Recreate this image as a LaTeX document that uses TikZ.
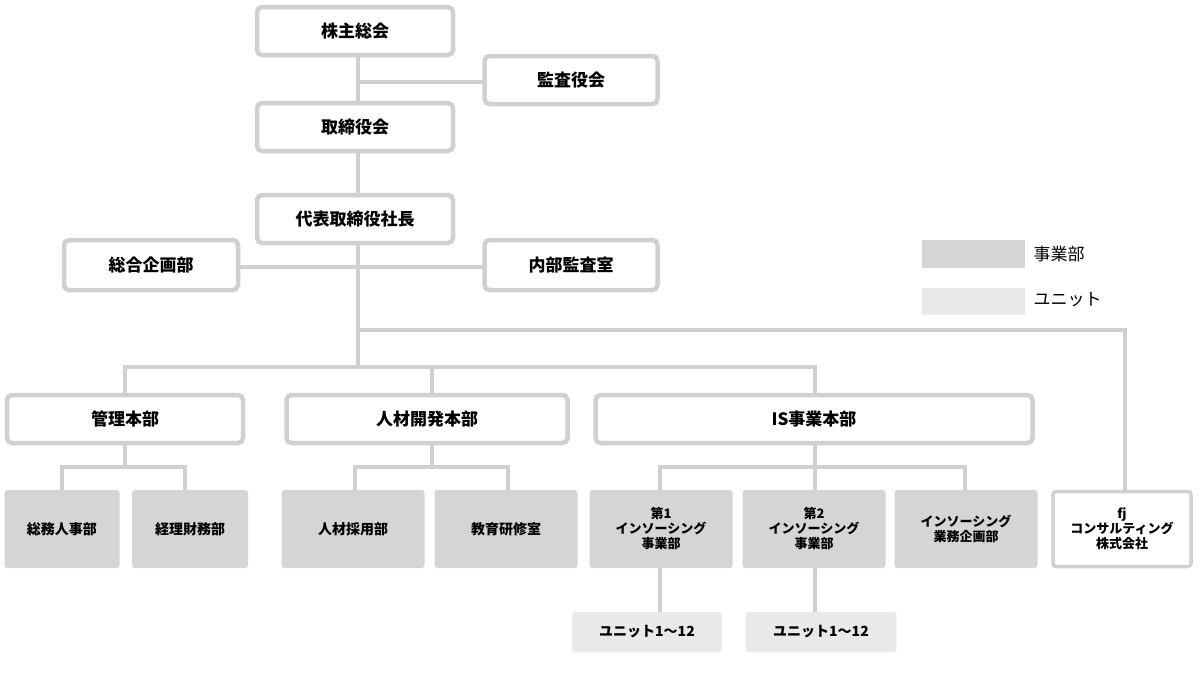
\documentclass[tikz,border=0pt]{standalone}
\usepackage{fontspec}
\setmainfont{Noto Sans CJK JP}
\definecolor{ln}{HTML}{D0D0D0}
\definecolor{dept}{HTML}{D5D5D5}
\definecolor{unit}{HTML}{E9E9E9}
\begin{document}
\begin{tikzpicture}[x=1pt,y=-1pt,
  ob/.style={draw=ln,line width=4.5pt,fill=white,rounded corners=5pt,font=\bfseries\fontsize{17}{20}\selectfont},
  db/.style={fill=dept,rounded corners=3pt,font=\bfseries\fontsize{14}{16}\selectfont,align=center},
  ub/.style={fill=unit,rounded corners=3pt,font=\bfseries\fontsize{14}{16}\selectfont},
  fb/.style={draw=ln,line width=3.5pt,fill=white,rounded corners=3pt,font=\bfseries\fontsize{13}{15}\selectfont,align=center},
  cn/.style={draw=ln,line width=4.5pt}]
\useasboundingbox (0,0) rectangle (1200,673);
\fill[white] (0,0) rectangle (1200,673);
% connectors
\coordinate (t1) at (358,82);
\coordinate (t2) at (358,267);
\coordinate (b1) at (358,330);
\coordinate (b2) at (358,367);
\coordinate (fjc) at (1125,330);
\draw[cn] (358,31) -- (358,367);
\draw[cn] (t1) -- (483,82);
\draw[cn] (240,267) -- (483,267);
\draw[cn] (b1) -- (fjc) -- (1125,490);
\draw[cn] (125,393) -- (125,367) -- (815,367) -- (815,393);
\draw[cn] (432,367) -- (432,393);
\draw[cn] (62,490) -- (62,467) -- (185,467) -- (185,490);
\draw[cn] (125,445) -- (125,467);
\draw[cn] (355,490) -- (355,467) -- (508,467) -- (508,490);
\draw[cn] (432,445) -- (432,467);
\draw[cn] (660,490) -- (660,467) -- (965,467) -- (965,490);
\draw[cn] (815,445) -- (815,490);
\draw[cn] (660,568) -- (660,612);
\draw[cn] (815,568) -- (815,612);
% boxes
\node[ob,minimum width=196,minimum height=48] (kabu) at (355,31) {株主総会};
\node[ob,minimum width=173,minimum height=48] (kansa) at (571,80) {監査役会};
\node[ob,minimum width=196,minimum height=48] (tori) at (355,127) {取締役会};
\node[ob,minimum width=196,minimum height=48] (pres) at (355,219) {代表取締役社長};
\node[ob,minimum width=174,minimum height=50] (sogo) at (151,265) {総合企画部};
\node[ob,minimum width=173,minimum height=50] (naibu) at (571,265) {内部監査室};
\node[ob,minimum width=236,minimum height=48] (kanri) at (125,419) {管理本部};
\node[ob,minimum width=281,minimum height=48] (jinzai) at (427,419) {人材開発本部};
\node[ob,minimum width=437,minimum height=48] (is) at (814,419) {IS事業本部};
\node[db,minimum width=115,minimum height=78] (d1) at (62,529) {総務人事部};
\node[db,minimum width=116,minimum height=78] (d2) at (190,529) {経理財務部};
\node[db,minimum width=143,minimum height=78] (d3) at (353,529) {人材採用部};
\node[db,minimum width=143,minimum height=78] (d4) at (506,529) {教育研修室};
\node[db,minimum width=143,minimum height=78,font=\bfseries\fontsize{13}{15}\selectfont] (d5) at (661,529) {第1\\インソーシング\\事業部};
\node[db,minimum width=143,minimum height=78,font=\bfseries\fontsize{13}{15}\selectfont] (d6) at (814,529) {第2\\インソーシング\\事業部};
\node[db,minimum width=143,minimum height=78,font=\bfseries\fontsize{13}{15}\selectfont] (d7) at (966,529) {インソーシング\\業務企画部};
\node[fb,minimum width=138,minimum height=75] (fj) at (1122,529) {fj\\コンサルティング\\株式会社};
\node[ub,minimum width=150,minimum height=40] (u1) at (647,632) {ユニット1〜12};
\node[ub,minimum width=151,minimum height=40] (u2) at (821,632) {ユニット1〜12};
% legend
\node[fill=dept,minimum width=103,minimum height=28,inner sep=0] (lg1) at (973,254) {};
\node[anchor=west,font=\fontsize{17}{20}\selectfont] (lt1) at (1030,254) {事業部};
\node[fill=unit,minimum width=103,minimum height=27,inner sep=0] (lg2) at (973,301) {};
\node[anchor=west,font=\fontsize{17}{20}\selectfont] (lt2) at (1030,300) {ユニット};
\end{tikzpicture}
\end{document}
